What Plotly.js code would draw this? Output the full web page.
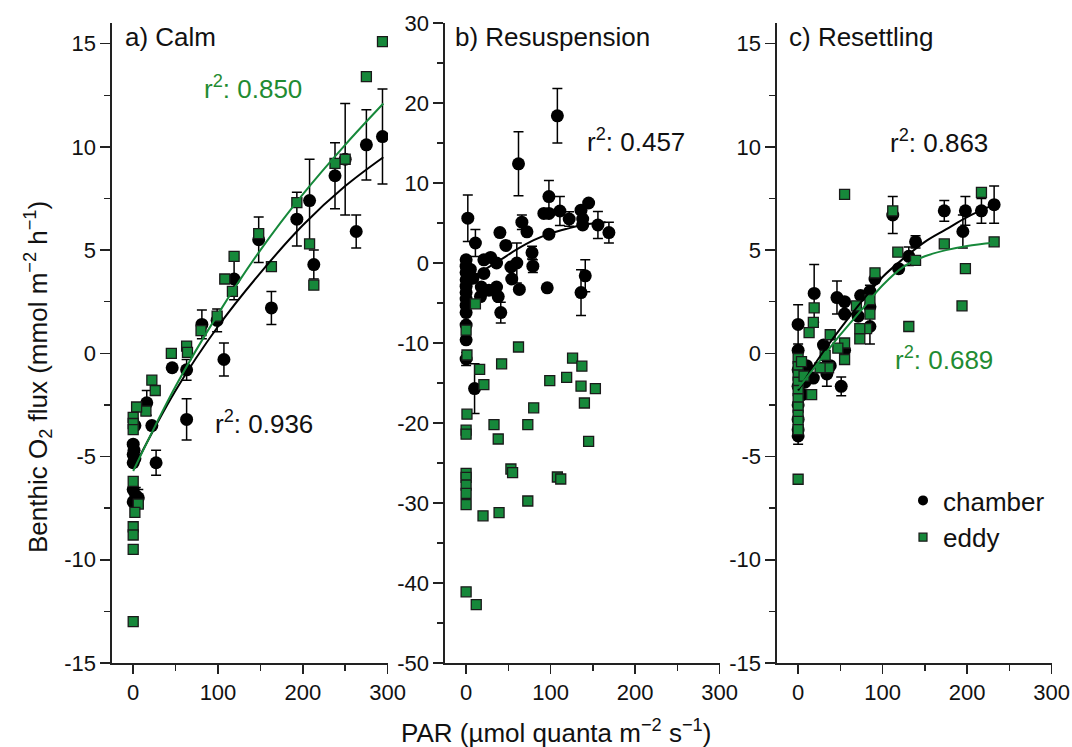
<!DOCTYPE html>
<html>
<head>
<meta charset="utf-8">
<script src="https://cdn.plot.ly/plotly-3.0.1.min.js"></script>
<style>html,body{margin:0;padding:0;background:#fff;}#chart{width:1072px;height:747px;}</style>
</head>
<body>
<div id="chart"></div>
<script>
// ---------- a) Calm ----------
const calmChamberPAR  = [294, 275, 263, 250, 238, 208, 193, 213, 163, 148, 119, 99, 81, 107, 63, 46, 63, 16, 22, 27, 2, 0, 1, 0, 2, 0, 0, 3, 6, 0];
const calmChamberFlux = [10.5, 10.1, 5.9, 9.4, 8.6, 7.4, 6.5, 4.3, 2.2, 5.5, 3.6, 1.6, 1.4, -0.3, -0.8, -0.7, -3.2, -2.4, -3.5, -5.3, -3.5, -4.4, -4.7, -4.9, -5.1, -5.3, -6.6, -6.9, -7.0, -7.2];
const calmChamberErr  = [2.3, 1.7, 0.8, 2.7, 1.6, 2.0, 1.3, 0.7, 0.8, 1.1, 1.0, 0.55, 0.7, 0.8, 0.5, 0, 1.0, 0.6, 0, 0.6, 0, 0, 0, 0, 0, 0, 0, 0.4, 0.4, 0];
const calmEddyPAR  = [294, 275, 250, 238, 193, 208, 213, 163, 148, 119, 108, 117, 99, 80, 63, 64, 45, 22, 26, 15, 4, 0, 0, 0, 0, 6, 2, 0, 0, 0, 0];
const calmEddyFlux = [15.1, 13.4, 9.4, 9.2, 7.3, 5.3, 3.3, 4.2, 5.8, 4.7, 3.6, 3.0, 1.8, 1.1, 0.35, 0.05, 0.0, -1.3, -1.8, -2.8, -2.6, -3.1, -3.4, -3.7, -6.2, -7.3, -7.7, -8.4, -8.8, -9.5, -13.0];
const calmFitPAR        = [0, 50, 100, 150, 200, 250, 295];
const calmChamberFit    = [-5.6, -1.8, 1.3, 3.9, 6.2, 8.1, 9.5];
const calmEddyFit       = [-5.7, -1.6, 1.9, 5.0, 7.7, 10.1, 12.1];

// ---------- b) Resuspension ----------
const resusChamberPAR  = [108, 62, 2, 98, 111, 92, 98, 122, 136, 145, 138, 138, 156, 169, 98, 66, 72, 40, 47, 11, 29, 21, 36, 78, 79, 60, 53, 54, 63, 96, 141, 136, 41, 38, 36, 21, 18, 27, 17, 8, 5, 0, 0, 0, 0, 0, 0, 0, 0, 0, 0, 0, 0, 10];
const resusChamberFlux = [18.4, 12.4, 5.6, 8.3, 6.5, 6.2, 6.2, 5.5, 6.6, 7.5, 5.5, 4.75, 4.75, 3.8, 3.6, 5.1, 3.9, 3.8, 2.2, 2.5, 0.7, 0.4, 0, 1.3, -0.4, 0, -0.5, -2.0, -3.3, -3.1, -1.6, -3.7, -6.2, -4.2, -3.0, -1.3, -3.0, -3.4, -4.2, -1.9, -0.8, 0.4, -0.4, -1.2, -2.1, -2.9, -3.7, -4.5, -5.3, -6.2, -7.75, -9.6, -12.0, -15.7];
const resusChamberErr  = [3.4, 4.0, 2.9, 2.0, 1.8, 0, 0, 0.9, 0, 0, 0, 0, 1.7, 1.3, 0, 0.9, 0, 0, 0, 1.7, 0, 0, 0, 0.8, 0.8, 2.5, 0, 0, 0, 0, 2.0, 2.85, 1.3, 0, 0, 0, 0, 0, 0, 0, 0, 0, 0, 0, 0, 0, 0, 0, 0, 0, 0, 0, 0.8, 3.1];
const resusEddyPAR  = [1, 16, 21, 42, 62, 99, 119, 126, 137, 136, 153, 140, 145, 80, 73, 33, 38, 1, 0, 0, 53, 55, 108, 112, 0, 0, 0, 0, 0, 73, 20, 39, 0, 12, 11, 0];
const resusEddyFlux = [-11.5, -13.3, -15.2, -12.6, -10.5, -14.7, -14.3, -11.9, -12.9, -15.4, -15.7, -17.5, -22.3, -18.1, -20.2, -20.2, -22.0, -18.9, -20.9, -21.4, -25.75, -26.2, -26.75, -27.0, -26.3, -26.8, -27.75, -28.8, -30.2, -29.75, -31.6, -31.2, -41.1, -42.7, -5.1, -8.4];
const resusFitPAR     = [0, 20, 40, 60, 80, 100, 120, 140, 165];
const resusChamberFit = [-2.3, -0.95, 0.35, 1.7, 2.85, 3.7, 4.3, 4.8, 5.1];

// ---------- c) Resettling ----------
const resetChamberPAR  = [232, 217, 198, 195, 173, 139, 131, 119, 112, 91, 85, 74, 85, 71, 85, 55, 46, 55, 19, 0, 30, 0, 38, 51, 34, 18, 55, 0, 0, 10, 8, 5, 0, 0, 0, 0];
const resetChamberFlux = [7.2, 6.9, 6.9, 5.9, 6.9, 5.4, 4.7, 4.1, 6.7, 3.6, 3.0, 2.8, 2.25, 1.8, 1.3, 2.5, 2.7, 1.9, 2.9, 1.4, 0.4, 0.15, -0.6, -1.6, -1.0, -1.2, 0.15, -4.0, -3.7, -0.6, -1.4, -2.0, -2.5, -3.2, -0.8, -1.6];
const resetChamberErr  = [0.9, 0.6, 0.7, 0.8, 0.5, 0.3, 0.45, 0, 0.9, 0, 0.3, 0, 0, 0, 0.85, 0, 0.8, 0, 1.4, 0.95, 0, 0, 0, 0.45, 0.6, 0, 0, 0.4, 0, 0, 0, 0, 0, 0, 0, 0];
const resetEddyPAR  = [55, 112, 217, 232, 173, 198, 194, 131, 139, 118, 91, 85, 85, 81, 73, 73, 69, 19, 18, 13, 38, 55, 55, 47, 36, 26, 16, 32, 0, 0, 0, 0, 0, 0, 0, 0, 0, 0, 0, 4, 7];
const resetEddyFlux = [7.7, 6.9, 7.8, 5.4, 5.3, 4.1, 2.3, 1.3, 4.5, 4.9, 3.9, 1.9, 2.6, 1.2, 1.2, 0.7, 2.3, 2.2, 1.5, 1.0, 0.9, 0.5, -0.3, 0.25, -0.7, -0.7, -2.0, -0.1, -0.25, -0.65, -1.05, -1.4, -1.8, -2.2, -2.6, -3.0, -3.3, -3.7, -6.1, -0.4, -1.1];
const resetFitPAR     = [0, 25, 50, 75, 100, 125, 150, 175, 200, 232];
const resetChamberFit = [-1.8, -0.2, 1.2, 2.5, 3.7, 4.6, 5.4, 6.0, 6.6, 7.2];
const resetEddyFit    = [-1.7, -0.4, 0.9, 2.1, 3.3, 4.2, 4.7, 5.0, 5.2, 5.35];

// ---------- tick labels & texts ----------
const xTickVals = [0, 100, 200, 300];
const xTickText = ['0', '100', '200', '300'];
const yTickValsAC = [-15, -10, -5, 0, 5, 10, 15];
const yTickTextAC = ['-15', '-10', '-5', '0', '5', '10', '15'];
const yTickValsB = [-50, -40, -30, -20, -10, 0, 10, 20, 30];
const yTickTextB = ['-50', '-40', '-30', '-20', '-10', '0', '10', '20', '30'];
const panelTitles = ['a) Calm', 'b) Resuspension', 'c) Resettling'];
const r2Labels = ['0.850', '0.936', '0.457', '0.863', '0.689'];
const legendNames = ['chamber', 'eddy'];
const xTitle = 'PAR (µmol quanta m<sup>−2</sup> s<sup>−1</sup>)';
const yTitle = 'Benthic O<sub>2</sub> flux (mmol m<sup>−2</sup> h<sup>−1</sup>)';

// ---------- styling ----------
const FONT = 'Liberation Sans, Arial, sans-serif';
const GREEN = '#16883a';
const GREEN_TXT = '#1f8c32';
const W = 1072, H = 747;
const px = v => v / W;
const py = v => 1 - v / H;

function chamber(x, y, err, xa, ya) {
  return {x, y, xaxis: xa, yaxis: ya, type: 'scatter', mode: 'markers', showlegend: false,
    marker: {symbol: 'circle', size: 13, color: '#000'},
    error_y: {type: 'data', array: err, visible: true, color: '#000', thickness: 1.5, width: 5}};
}
function eddy(x, y, xa, ya) {
  return {x, y, xaxis: xa, yaxis: ya, type: 'scatter', mode: 'markers', showlegend: false,
    marker: {symbol: 'square', size: 10, color: GREEN, line: {color: '#1a1a1a', width: 1.3}}};
}
function fit(x, y, color, xa, ya) {
  return {x, y, xaxis: xa, yaxis: ya, type: 'scatter', mode: 'lines', showlegend: false,
    line: {color, width: 2, shape: 'spline', smoothing: 1}};
}

const data = [
  chamber(calmChamberPAR, calmChamberFlux, calmChamberErr, 'x', 'y'),
  eddy(calmEddyPAR, calmEddyFlux, 'x', 'y'),
  fit(calmFitPAR, calmChamberFit, '#000', 'x', 'y'),
  fit(calmFitPAR, calmEddyFit, GREEN, 'x', 'y'),

  chamber(resusChamberPAR, resusChamberFlux, resusChamberErr, 'x2', 'y2'),
  eddy(resusEddyPAR, resusEddyFlux, 'x2', 'y2'),
  fit(resusFitPAR, resusChamberFit, '#000', 'x2', 'y2'),

  chamber(resetChamberPAR, resetChamberFlux, resetChamberErr, 'x3', 'y3'),
  eddy(resetEddyPAR, resetEddyFlux, 'x3', 'y3'),
  fit(resetFitPAR, resetChamberFit, '#000', 'x3', 'y3'),
  fit(resetFitPAR, resetEddyFit, GREEN, 'x3', 'y3'),

  // legend entries
  {x: [null], y: [null], xaxis: 'x3', yaxis: 'y3', type: 'scatter', mode: 'markers', name: legendNames[0],
   marker: {symbol: 'circle', size: 10, color: '#000'}},
  {x: [null], y: [null], xaxis: 'x3', yaxis: 'y3', type: 'scatter', mode: 'markers', name: legendNames[1],
   marker: {symbol: 'square', size: 8, color: GREEN, line: {color: '#1a1a1a', width: 1.2}}}
];

function xAxis(domain, anchor) {
  return {domain, anchor, range: [-25, 300.5], tickmode: 'array', tickvals: xTickVals, ticktext: xTickText,
    showgrid: false, zeroline: false, showline: true, linecolor: '#222', linewidth: 1.6,
    ticks: 'outside', ticklen: 9, tickwidth: 1.5, tickcolor: '#222',
    minor: {ticks: 'outside', ticklen: 6, tickwidth: 1.5, tickcolor: '#222', tickmode: 'linear', dtick: 50, tick0: 0, showgrid: false},
    tickfont: {family: FONT, size: 22, color: '#111'}, fixedrange: true};
}
function yAxis(range, vals, text, minorStep, anchor) {
  return {domain: [py(663), py(23)], anchor, range, tickmode: 'array', tickvals: vals, ticktext: text,
    showgrid: false, zeroline: false, showline: true, linecolor: '#222', linewidth: 1.6,
    ticks: 'outside', ticklen: 10, tickwidth: 1.5, tickcolor: '#222',
    minor: {ticks: 'outside', ticklen: 6, tickwidth: 1.5, tickcolor: '#222', tickmode: 'linear', dtick: minorStep, tick0: 0, showgrid: false},
    tickfont: {family: FONT, size: 22, color: '#111'}, fixedrange: true};
}

function ann(text, x, y, color, size) {
  return {text, x: px(x), y: py(y), xref: 'paper', yref: 'paper', xanchor: 'left', yanchor: 'middle',
    showarrow: false, font: {family: FONT, size: size || 26, color: color || '#111'}};
}

const layout = {
  width: W, height: H, margin: {l: 0, r: 0, t: 0, b: 0},
  paper_bgcolor: '#fff', plot_bgcolor: '#fff',
  showlegend: true,
  legend: {x: px(903), y: py(477), xanchor: 'left', yanchor: 'top', bgcolor: 'rgba(0,0,0,0)',
    font: {family: FONT, size: 26, color: '#111'}, itemsizing: 'trace', tracegroupgap: 0},
  xaxis: xAxis([px(112), px(388)], 'y'),
  yaxis: yAxis([-15, 16], yTickValsAC, yTickTextAC, 2.5, 'x'),
  xaxis2: xAxis([px(445), px(720)], 'y2'),
  yaxis2: yAxis([-50, 30], yTickValsB, yTickTextB, 5, 'x2'),
  xaxis3: xAxis([px(777), px(1052)], 'y3'),
  yaxis3: yAxis([-15, 16], yTickValsAC, yTickTextAC, 2.5, 'x3'),
  annotations: [
    ann(panelTitles[0], 123, 37),
    ann(panelTitles[1], 453, 37),
    ann(panelTitles[2], 787, 37),
    ann('r<sup>2</sup>: ' + r2Labels[0], 202, 87, GREEN_TXT),
    ann('r<sup>2</sup>: ' + r2Labels[1], 213, 422),
    ann('r<sup>2</sup>: ' + r2Labels[2], 585, 140),
    ann('r<sup>2</sup>: ' + r2Labels[3], 888, 141),
    ann('r<sup>2</sup>: ' + r2Labels[4], 893, 358, GREEN_TXT),
    {text: xTitle, x: px(556), y: py(731), xref: 'paper', yref: 'paper', xanchor: 'center', yanchor: 'middle',
     showarrow: false, font: {family: FONT, size: 26, color: '#111'}},
    {text: yTitle, x: px(38), y: py(377), xref: 'paper', yref: 'paper', xanchor: 'center', yanchor: 'middle',
     textangle: -90, showarrow: false, font: {family: FONT, size: 26, color: '#111'}}
  ]
};

Plotly.newPlot('chart', data, layout, {displayModeBar: false, staticPlot: true});
</script>
</body>
</html>
